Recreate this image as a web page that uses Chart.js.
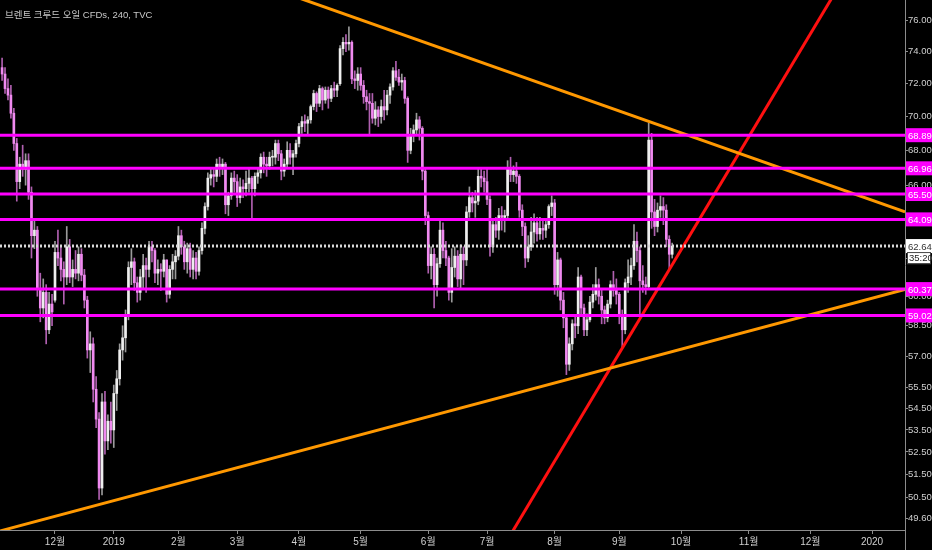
<!DOCTYPE html>
<html>
<head>
<meta charset="utf-8">
<script src="https://cdn.jsdelivr.net/npm/chart.js@4.4.0/dist/chart.umd.min.js"></script>
<style>
    html, body { margin: 0; padding: 0; background: #000; }
    #wrap { position: relative; width: 932px; height: 550px; }
    #title { position: absolute; left: 5px; top: 7px; color: #c8c8c8;
             font: 9.5px 'Liberation Sans', 'Noto Sans CJK KR', sans-serif; }
</style>
</head>
<body>
<div id="wrap">
    <canvas id="chart" width="932" height="550"></canvas>
    <div id="title">브렌트 크루드 오일 CFDs, 240, TVC</div>
</div>
<script>
// daily candles, index = trading day counted from 3 Dec 2018 (first one is 7 Nov 2018)
const firstDay = -18;

const opens = [
    73.0,72.6,71.7,71.3,70.2,68.4,66.2,67.2,66.9,67.4,65.6,63.2,63.5,60.4,59.4,60.2,58.3,59.6, // nov
    59.8,62.3,62.0,61.4,61.0,62.6,61.0,61.4,61.2,62.2,61.1,59.8,57.3,57.6,55.4,54.0,50.9,54.8,53.0,53.9, // dec
    53.5,55.2,55.9,57.3,57.9,59.0,61.5,61.8,60.7,60.2,61.0,61.6,61.4,62.6,62.4,61.2,61.4,61.3,61.9,60.1,61.4,61.8, // jan
    62.1,63.2,62.6,61.8,62.5,61.4,62.0,61.3,62.4,63.6,64.8,66.4,66.6,66.5,67.2,67.0,67.2,64.9,65.4,66.4, // feb
    66.2,65.3,65.9,65.8,66.1,66.4,65.8,66.5,66.7,67.6,67.2,67.1,67.6,67.6,68.4,67.8,66.8,67.2,68.0,67.6,67.8, // mar
    68.4,69.4,69.7,69.6,69.8,70.6,71.4,70.8,71.7,71.0,71.6,71.1,71.7,71.6,72.0,74.2,74.6,74.5,74.6,72.3,72.2, // apr
    72.6,71.9,71.2,70.9,70.8,69.9,70.4,70.0,70.6,70.4,71.3,71.8,72.8,72.4,72.1,72.2,71.1,68.0,68.9,69.2,69.8,69.3,66.8, // may
    64.3,61.6,62.2,60.6,61.7,63.5,62.4,62.0,60.2,61.5,62.1,60.9,62.2,61.9,64.5,65.3,65.0,65.1,66.5,66.4, // jun
    66.2,65.2,62.6,63.8,63.5,64.3,64.2,64.3,67.0,66.6,66.8,66.5,64.6,63.7,62.0,62.6,63.4,63.9,63.3,63.6,63.5,63.8,64.8, // jul
    65.0,60.6,61.9,59.8,58.9,56.6,57.6,58.6,58.5,61.0,59.4,58.3,58.8,59.7,60.1,60.6,60.0,59.3,58.9,59.6,60.6,60.3, // aug
    60.1,59.0,58.3,60.7,61.0,61.6,62.9,62.4,60.8,60.6,60.5,68.6,64.5,63.7,64.6,64.8,64.6,63.0,62.2 // sep
];
const highs = [
    73.6,73.0,72.3,71.9,70.5,68.7,67.6,68.3,67.8,67.8,65.9,64.1,63.7,61.2,60.9,60.6,60.2,60.1,
    62.9,63.5,62.6,61.8,63.7,63.0,61.9,62.4,62.6,62.5,61.4,60.0,58.2,57.9,56.0,54.3,55.2,55.3,54.2,54.8,
    55.6,56.3,57.6,58.5,59.3,61.8,62.5,62.0,61.0,61.4,62.2,62.0,62.9,62.9,62.5,61.9,61.7,62.2,61.9,61.6,62.2,62.4,
    63.7,63.5,62.9,62.8,62.8,62.4,62.3,62.6,63.9,65.0,66.7,67.0,66.9,67.5,67.6,67.5,67.3,65.6,66.7,66.8,
    66.6,66.4,66.3,66.8,67.0,66.5,66.7,67.0,67.8,67.9,67.6,67.9,68.0,68.6,68.6,68.0,67.5,68.5,68.4,68.0,68.6,
    69.6,70.0,70.1,70.0,70.7,71.6,71.5,71.9,71.8,71.8,71.8,71.9,72.1,72.0,74.4,74.9,75.1,75.6,74.7,72.8,73.0,
    73.0,72.2,71.6,71.4,71.4,70.9,70.6,71.0,71.6,71.6,72.0,73.0,73.4,72.9,72.6,72.4,71.2,69.3,69.5,70.2,70.0,69.4,67.0,
    64.5,62.6,62.5,62.0,64.0,63.9,62.9,62.1,62.5,62.6,62.4,62.7,62.6,64.8,65.9,65.6,65.7,66.9,66.9,66.8,
    66.9,65.4,64.0,64.2,64.7,64.8,64.6,67.4,67.6,67.1,67.3,66.6,64.9,63.9,63.2,64.2,64.4,64.2,64.2,64.0,64.1,64.9,65.4,
    65.2,62.3,62.0,60.2,59.0,57.9,58.8,59.0,61.5,61.1,59.6,59.1,60.0,60.6,61.5,60.9,60.4,59.5,59.8,60.8,61.3,60.9,
    60.2,59.3,60.9,61.9,62.0,63.8,63.4,62.6,61.6,61.0,69.6,69.0,65.2,65.0,65.4,65.3,64.9,63.2,62.8
];
const lows = [
    72.2,71.4,71.0,69.9,68.0,65.1,65.8,66.5,66.0,65.2,62.0,62.5,60.0,58.7,58.9,57.6,58.1,58.5,
    59.7,61.6,60.8,59.6,60.6,60.7,60.5,60.9,60.8,60.8,59.4,56.9,56.2,54.8,53.6,50.4,50.6,52.4,52.6,52.9,
    52.7,54.4,55.6,56.8,57.2,58.8,60.6,60.3,59.7,59.8,60.4,60.2,61.0,61.8,60.7,60.6,60.3,61.0,59.7,59.9,60.9,60.9,
    61.9,62.2,61.4,61.2,61.0,60.9,60.9,61.1,62.2,63.3,64.6,66.0,65.9,66.2,66.5,66.6,64.4,64.3,65.2,65.6,
    64.8,65.0,65.3,65.4,65.6,64.1,65.4,66.1,66.4,66.7,66.5,66.9,67.1,67.2,67.4,66.3,66.5,67.0,67.2,66.6,67.6,
    68.2,69.0,69.1,68.9,69.6,70.4,70.3,70.6,70.4,70.8,70.5,70.9,71.2,71.2,71.9,73.8,74.0,74.1,72.0,71.7,71.6,
    71.6,70.8,70.4,68.9,69.6,69.5,69.4,69.6,69.8,70.1,70.8,71.6,72.2,71.9,71.6,70.8,67.3,67.8,68.5,68.9,68.6,66.3,63.8,
    61.2,60.9,59.4,60.0,61.5,62.0,61.6,59.8,59.7,61.0,60.5,60.4,60.6,61.6,64.2,64.5,64.2,64.9,65.9,65.6,
    64.9,62.1,62.3,63.1,63.0,63.5,63.4,64.1,66.2,66.2,66.1,64.2,63.2,61.5,61.8,62.4,62.8,62.9,63.0,63.0,63.1,63.6,64.3,
    60.1,60.0,59.3,58.4,56.1,56.3,57.3,57.9,58.1,59.0,58.0,58.0,58.7,59.4,59.8,59.6,58.6,58.6,58.7,59.4,60.0,59.6,
    58.6,57.4,58.1,60.2,60.6,61.4,61.8,59.1,60.2,60.1,60.4,63.6,63.2,63.4,64.2,63.8,62.6,61.4,62.0
];
const closes = [
    72.6,71.7,71.3,70.2,68.4,66.2,67.2,66.9,67.4,65.6,63.2,63.5,60.4,59.4,60.2,58.3,59.6,59.2,
    62.3,62.0,61.4,61.0,62.6,61.0,61.4,61.2,62.2,61.1,59.8,57.3,57.6,55.4,54.0,50.9,54.8,53.0,53.9,53.5,
    55.2,55.9,57.3,57.9,59.0,61.5,61.8,60.7,60.2,61.0,61.6,61.4,62.6,62.4,61.2,61.4,61.3,61.9,60.1,61.4,61.8,62.1,
    63.2,62.6,61.8,62.5,61.4,62.0,61.3,62.4,63.6,64.8,66.4,66.6,66.5,67.2,67.0,67.2,64.9,65.4,66.4,66.2,
    65.3,65.9,65.8,66.1,66.4,65.8,66.5,66.7,67.6,67.2,67.1,67.6,67.6,68.4,67.8,66.8,67.2,68.0,67.6,67.8,68.4,
    69.4,69.7,69.6,69.8,70.6,71.4,70.8,71.7,71.0,71.6,71.1,71.7,71.6,71.9,74.2,74.6,74.5,74.6,72.3,72.2,72.6,
    71.9,71.2,70.9,70.8,69.9,70.4,70.0,70.6,70.4,71.3,71.8,72.8,72.4,72.1,72.2,71.1,68.0,68.9,69.2,69.8,69.3,66.8,64.3,
    61.6,62.2,60.6,61.7,63.5,62.4,62.0,60.2,61.5,62.1,60.9,62.2,61.9,64.5,65.3,65.0,65.1,66.5,66.4,66.2,
    65.2,62.6,63.8,63.5,64.3,64.2,64.3,67.0,66.6,66.8,66.5,64.6,63.7,62.0,62.6,63.4,63.9,63.3,63.6,63.5,63.8,64.8,65.0,
    60.6,61.9,59.8,58.9,56.6,57.6,58.6,58.5,61.0,59.4,58.3,58.8,59.7,60.1,60.6,60.0,59.3,58.9,59.6,60.6,60.3,60.1,
    59.0,58.3,60.7,61.0,61.6,62.9,62.4,60.8,60.6,60.5,68.6,64.5,63.7,64.6,64.8,64.6,63.0,62.2,62.64
];

// month starts (trading day index) and their labels
const monthTicks = [0, 20, 42, 62, 83, 104, 127, 147, 170, 192, 213, 236, 257, 278];
const monthLabels = ['12월', '2019', '2월', '3월', '4월', '5월', '6월', '7월', '8월', '9월', '10월', '11월', '12월', '2020'];

const priceTicks = [76, 74, 72, 70, 68, 66, 64, 62, 60, 58.5, 57, 55.5, 54.5, 53.5, 52.5, 51.5, 50.5, 49.6];

// drawn levels and lines
const keyLevels = [68.89, 66.96, 65.50, 64.09, 60.37, 59.02];
const lastPrice = 62.64;
const countdown = '35:20';
const upperTrend = [[76.56, 77.94], [289.21, 64.50]];
const lowerTrend = [[-18.7, 49.06], [289.2, 60.35]];
const redTrend = [[150, 47.88], [270, 79.37]];

const xMin = -18.71, xMax = 289.21;
const yMin = 49.10, yMax = 77.36;

const FONT = "'Liberation Sans', 'Noto Sans CJK KR', sans-serif";
Chart.defaults.font.family = FONT;

var days = opens.map(function (v, k) { return firstDay + k; });

function isUp(k) { return closes[k] >= opens[k]; }

function lineSet(points, color, width, dash) {
    return {
        type: 'line',
        data: points.map(function (p) { return { x: p[0], y: p[1] }; }),
        borderColor: color,
        borderWidth: width,
        borderDash: dash || [],
        pointRadius: 0,
        fill: false,
        clip: 0,
        order: 1
    };
}

var datasets = [];
keyLevels.forEach(function (v) {
    datasets.push(lineSet([[xMin, v], [xMax, v]], '#ff00ff', 3));
});
datasets.push(lineSet([[xMin, lastPrice], [xMax, lastPrice]], '#d8d8d8', 3, [2, 2]));
datasets.push(lineSet(upperTrend, '#ff9800', 3));
datasets.push(lineSet(lowerTrend, '#ff9800', 3));
datasets.push(lineSet(redTrend, '#ff1010', 3));

// wicks
datasets.push({
    type: 'bar',
    data: days.map(function (x, k) { return { x: x, y: [lows[k], highs[k]] }; }),
    backgroundColor: function (c) { return isUp(c.dataIndex) ? '#9a9a9a' : '#b060b0'; },
    barThickness: 1,
    grouped: false,
    clip: 0,
    order: 10
});
// bodies
datasets.push({
    type: 'bar',
    data: days.map(function (x, k) { return { x: x, y: [opens[k], closes[k]] }; }),
    backgroundColor: function (c) { return isUp(c.dataIndex) ? '#eeeeee' : '#f08af0'; },
    barThickness: 2,
    minBarLength: 1,
    grouped: false,
    clip: 0,
    order: 9
});

// price boxes on the right axis
const levelBoxes = {
    id: 'levelBoxes',
    afterDraw: function (chart) {
        var ctx = chart.ctx, area = chart.chartArea, y = chart.scales.y;
        var w = chart.width - area.right;
        ctx.save();
        ctx.strokeStyle = '#8c8c8c';
        ctx.lineWidth = 1;
        ctx.beginPath();
        ctx.moveTo(area.right + 0.5, area.bottom);
        ctx.lineTo(area.right + 0.5, chart.height);
        ctx.stroke();

        ctx.font = "9.5px " + FONT;
        ctx.textBaseline = 'middle';
        keyLevels.forEach(function (v) {
            var py = y.getPixelForValue(v);
            ctx.fillStyle = '#ff00ff';
            ctx.fillRect(area.right + 1, py - 7, w, 14);
            ctx.fillStyle = '#ffffff';
            ctx.fillText(v.toFixed(2), area.right + 3, py + 1);
        });
        var lp = y.getPixelForValue(lastPrice);
        ctx.fillStyle = '#ffffff';
        ctx.fillRect(area.right + 1, lp - 7, w, 14);
        ctx.fillStyle = '#333333';
        ctx.fillText(lastPrice.toFixed(2), area.right + 3, lp + 1);
        ctx.fillStyle = '#ffffff';
        ctx.fillRect(area.right + 2, lp + 6, w - 3, 12);
        ctx.strokeStyle = '#444444';
        ctx.strokeRect(area.right + 2.5, lp + 6.5, w - 4, 11);
        ctx.fillStyle = '#222222';
        ctx.fillText(countdown, area.right + 4, lp + 12.5);
        ctx.restore();
    }
};

var ctx = document.getElementById('chart').getContext('2d');
new Chart(ctx, {
    type: 'bar',
    data: { datasets: datasets },
    options: {
        responsive: false,
        animation: false,
        layout: { padding: 0 },
        plugins: { legend: { display: false }, tooltip: { enabled: false } },
        scales: {
            x: {
                type: 'linear',
                min: xMin,
                max: xMax,
                bounds: 'data',
                offset: false,
                afterBuildTicks: function (scale) {
                    scale.ticks = monthTicks.map(function (v) { return { value: v }; });
                },
                afterFit: function (scale) {
                    scale.height = 20;
                    scale.paddingLeft = 0;
                    scale.paddingRight = 0;
                },
                ticks: {
                    autoSkip: false,
                    maxRotation: 0,
                    padding: 2,
                    color: '#d0d0d0',
                    font: { size: 10 },
                    callback: function (v) {
                        var k = monthTicks.indexOf(v);
                        return k >= 0 ? monthLabels[k] : '';
                    }
                },
                grid: { offset: false, drawOnChartArea: false, drawTicks: true, tickLength: 4, color: '#8c8c8c' },
                border: { display: true, color: '#8c8c8c' }
            },
            y: {
                type: 'logarithmic',
                position: 'right',
                min: yMin,
                max: yMax,
                bounds: 'data',
                afterBuildTicks: function (scale) {
                    scale.ticks = priceTicks.map(function (v) { return { value: v }; });
                },
                afterFit: function (scale) {
                    scale.width = 27;
                    scale.paddingTop = 0;
                    scale.paddingBottom = 0;
                },
                ticks: {
                    autoSkip: false,
                    padding: 0,
                    color: '#d0d0d0',
                    font: { size: 9.5 },
                    callback: function (v) { return Number(v).toFixed(2); }
                },
                grid: { drawOnChartArea: false, drawTicks: true, tickLength: 3, color: '#8c8c8c' },
                border: { display: true, color: '#8c8c8c' }
            }
        }
    },
    plugins: [levelBoxes]
});
</script>
</body>
</html>
